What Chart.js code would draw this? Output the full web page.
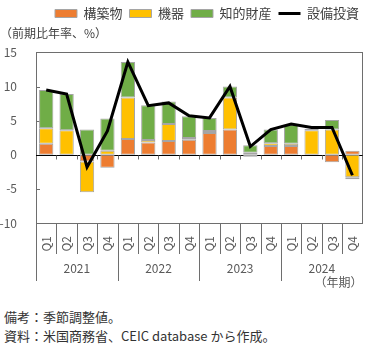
<!DOCTYPE html>
<html>
<head>
<meta charset="utf-8">
<script src="https://cdn.jsdelivr.net/npm/chart.js@4"></script>
<style>
  html, body { margin: 0; padding: 0; background: #fff; }
  #wrap { position: relative; width: 372px; height: 300px; }
  .notes { margin: 7px 0 0 4px; font: 13px 'Noto Sans CJK JP', sans-serif; color: #333; line-height: 19px; }
</style>
</head>
<body>
<div id="wrap"><canvas id="chart"></canvas></div>
<div class="notes">
  <div>備考：季節調整値。</div>
  <div>資料：米国商務省、CEIC database から作成。</div>
</div>
<script>
// quarters / years
var quarters = ['Q1','Q2','Q3','Q4','Q1','Q2','Q3','Q4','Q1','Q2','Q3','Q4','Q1','Q2','Q3','Q4'];
var years = ['2021','2022','2023','2024'];

// contributions (前期比年率, %)
var structures = [1.6, 0, -1.0, -1.9, 2.3, 1.8, 2.0, 2.2, 3.2, 3.7, 0.3, 1.3, 1.3, 0, -1.1, 0.6];
var equipment  = [2.3, 3.6, -4.5, 0.6, 6.1, 0.35, 2.5, 0.25, 0.3, 4.7, -0.3, 0.4, 0.3, 3.6, 3.7, -3.3];
var ipProducts = [5.6, 5.3, 3.7, 4.7, 5.2, 5.1, 3.3, 3.2, 1.9, 1.6, 1.1, 2.0, 2.8, 0.2, 1.4, -0.3];
var totalInvestment = [9.5, 8.9, -1.8, 3.5, 13.6, 7.2, 7.6, 5.7, 5.4, 10.0, 1.2, 3.7, 4.5, 4.0, 4.0, -3.0];

var yTicks = [15, 10, 5, 0, -5, -10];

var FONT = "'Noto Sans CJK JP', sans-serif";
Chart.defaults.font.family = FONT;
Chart.defaults.color = '#595959';

var frameColor = '#6e6e6e';

var framePlugin = {
  id: 'frame',
  beforeDatasetsDraw: function(chart) {
    var ctx = chart.ctx, a = chart.chartArea, x = chart.scales.x, y = chart.scales.y;
    ctx.save();
    ctx.lineWidth = 1;
    ctx.strokeStyle = frameColor;
    ctx.strokeRect(Math.round(a.left) + 0.5, Math.round(a.top) + 0.5,
      Math.round(a.right - a.left) - 1, Math.round(a.bottom - a.top));
    // inward ticks on the value axis
    yTicks.forEach(function(v) {
      var py = Math.round(y.getPixelForValue(v)) + 0.5;
      ctx.beginPath();
      ctx.moveTo(a.left, py);
      ctx.lineTo(a.left + 4, py);
      ctx.stroke();
    });
    // zero line with small category ticks
    var y0 = Math.round(y.getPixelForValue(0)) + 0.5;
    ctx.strokeStyle = '#000';
    ctx.beginPath();
    ctx.moveTo(a.left, y0);
    ctx.lineTo(a.right, y0);
    ctx.stroke();
    ctx.strokeStyle = frameColor;
    var half = (x.getPixelForValue(1) - x.getPixelForValue(0)) / 2;
    for (var i = 1; i < quarters.length; i++) {
      var px = Math.round(x.getPixelForValue(i) - half) + 0.5;
      ctx.beginPath();
      ctx.moveTo(px, y0);
      ctx.lineTo(px, y0 + 4);
      ctx.stroke();
    }
    ctx.restore();
  },
  afterDraw: function(chart) {
    var ctx = chart.ctx, a = chart.chartArea, x = chart.scales.x, x2 = chart.scales.x2;
    var half = (x.getPixelForValue(1) - x.getPixelForValue(0)) / 2;
    ctx.save();
    ctx.lineWidth = 1;
    ctx.strokeStyle = frameColor;
    for (var i = 0; i < quarters.length; i++) {
      var px = Math.round(x.getPixelForValue(i) - half) + 0.5;
      var end = (i % 4 === 0) ? x2.top + 27 : x.bottom;
      ctx.beginPath();
      ctx.moveTo(px, a.bottom);
      ctx.lineTo(px, end);
      ctx.stroke();
    }
    ctx.restore();
  }
};

var ctx = document.getElementById('chart').getContext('2d');
var chart = new Chart(ctx, {
  data: {
    labels: quarters,
    datasets: [
      {
        type: 'bar', label: '構築物', data: structures,
        backgroundColor: '#ED7D31', borderColor: '#a5a5a5', borderWidth: 1,
        borderSkipped: false, stack: 'c', order: 1, pointStyle: 'rect'
      },
      {
        type: 'bar', label: '機器', data: equipment,
        backgroundColor: '#FFC000', borderColor: '#a5a5a5', borderWidth: 1,
        borderSkipped: false, stack: 'c', order: 1, pointStyle: 'rect'
      },
      {
        type: 'bar', label: '知的財産', data: ipProducts,
        backgroundColor: '#70AD47', borderColor: '#a5a5a5', borderWidth: 1,
        borderSkipped: false, stack: 'c', order: 1, pointStyle: 'rect'
      },
      {
        type: 'line', label: '設備投資', data: totalInvestment,
        borderColor: '#000', backgroundColor: '#000', borderWidth: 3,
        pointRadius: 0, tension: 0, stack: 'line', order: 0, pointStyle: 'line'
      }
    ]
  },
  options: {
    responsive: true,
    maintainAspectRatio: false,
    animation: false,
    layout: { padding: { left: 0, right: 6, top: 0, bottom: 10 } },
    datasets: { bar: { barPercentage: 0.7, categoryPercentage: 1 } },
    scales: {
      x: {
        stacked: true,
        offset: true,
        grid: { display: false },
        border: { display: false },
        ticks: { minRotation: 90, maxRotation: 90, padding: 5, color: '#595959', font: { size: 12 } },
        afterFit: function(s) { s.height = 31; }
      },
      x2: {
        type: 'category',
        labels: years,
        position: 'bottom',
        offset: true,
        grid: { display: false },
        border: { display: false },
        ticks: { padding: -1, color: '#595959', font: { size: 12 } },
        title: { display: true, text: '（年期）', align: 'end', color: '#595959', font: { size: 12 }, padding: 0 },
        afterFit: function(s) { s.height = 36; }
      },
      y: {
        stacked: true,
        min: -10, max: 15,
        grid: { display: false },
        border: { display: false },
        afterBuildTicks: function(s) { s.ticks = yTicks.map(function(v) { return { value: v }; }); },
        ticks: { padding: 11, color: '#595959', font: { size: 12 } },
        afterFit: function(s) { s.width = 36; }
      }
    },
    plugins: {
      legend: {
        position: 'top',
        align: 'end',
        labels: {
          usePointStyle: true,
          pointStyleWidth: 22,
          boxWidth: 22,
          boxHeight: 8,
          padding: 7,
          color: '#404040',
          font: { size: 13 },
          sort: function(a, b) { return a.datasetIndex - b.datasetIndex; }
        }
      },
      title: {
        display: true,
        text: '（前期比年率、%）',
        align: 'start',
        weight: 500,
        color: '#404040',
        font: { size: 12, weight: 'normal' },
        padding: { top: -4, bottom: 12 }
      },
      tooltip: { enabled: false }
    }
  },
  plugins: [framePlugin]
});
</script>
</body>
</html>
